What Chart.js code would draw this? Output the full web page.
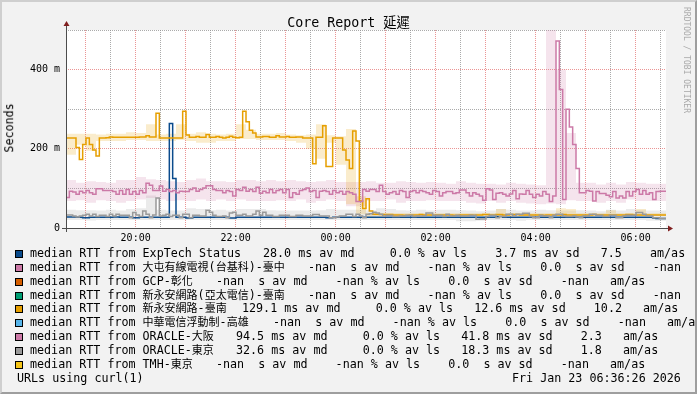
<!DOCTYPE html>
<html>
<head>
<meta charset="utf-8">
<script src="https://cdn.jsdelivr.net/npm/chart.js@4.4.1/dist/chart.umd.min.js"></script>
<style>
  body { margin: 0; background: #f2f2f2; }
  #graph {
    position: relative; width: 697px; height: 394px; overflow: hidden; background: #f2f2f2;
    font-family: "DejaVu Sans Mono", "Noto Sans CJK TC", monospace; color: #000;
  }
  #graph canvas { position: absolute; left: 0; top: 0; }
  #frame {
    position: absolute; left: 0; top: 0; right: 0; bottom: 0; pointer-events: none;
    border-style: solid; border-width: 2px; border-color: #cfcfcf #9e9e9e #9e9e9e #cfcfcf;
  }
  .txt { position: absolute; white-space: pre; line-height: 1; }
  #title { left: 0; width: 697px; top: 15.7px; text-align: center; font-size: 13.3px; }
  #ylabel { left: -40px; width: 100px; top: 121.6px; text-align: center; font-size: 11.7px; transform: rotate(-90deg); }
  #credit { left: 621px; width: 130px; top: 56px; text-align: center; font-size: 8px; color: #aaa; transform: rotate(90deg); }
  .row { position: absolute; left: 0; width: 697px; height: 12px; font-size: 11.7px; line-height: 1; white-space: pre; }
  .row span { position: absolute; top: 0; }
  .row .box { top: 2px; width: 6px; height: 6px; border: 1px solid #000; }
  .cjk { position: static !important; font-size: 11px; }
</style>
</head>
<body>
<div id="graph">
  <canvas id="chart" width="697" height="394"></canvas>
  <div class="txt" id="title">Core Report 延遲</div>
  <div class="txt" id="ylabel">Seconds</div>
  <div class="txt" id="credit">RRDTOOL / TOBI OETIKER</div>
  <div id="legend"></div>
  <div id="frame"></div>
</div>
<script>
// time axis: 12 hours ending 06:36:26, one value every 4 minutes
const timeStart = 18 + 36 / 60 + 26 / 3600;
const timeEnd = timeStart + 12;
const stepHours = 4 / 60;
const smokeEvery = 3; // smoke arrays hold one value per 3 steps

const hourTicks = [19, 19.5, 20, 20.5, 21, 21.5, 22, 22.5, 23, 23.5, 24, 24.5,
  25, 25.5, 26, 26.5, 27, 27.5, 28, 28.5, 29, 29.5, 30, 30.5];
const hourLabels = { 20: "20:00", 22: "22:00", 24: "00:00", 26: "02:00", 28: "04:00", 30: "06:00" };
const yTicks = [0, 100, 200, 300, 400, 500];
const yLabels = { 0: "0", 200: "200 m", 400: "400 m" };

// median RTT in ms
const expTech = [
  28,28,28,28,27,27,26,26,27,27, 27,27,27,27,27,28,28,27,27,27,
  27,26,26,27,27,27,27,27,27,27, 27,27,264,125,27,27,27,25,25,27,
  27,27,27,27,27,27,27,27,27,27, 25,25,27,27,27,27,27,27,27,27,
  27,27,27,27,27,27,27,27,27,27, 27,27,27,27,27,27,27,27,27,26,
  26,27,27,27,27,27,27,27,27,27, 27,27,27,27,27,27,27,27,27,27,
  27,27,27,27,27,27,27,27,27,27, 27,27,27,27,27,27,27,27,27,27,
  27,27,27,27,27,27,27,27,27,27, 29,29,27,27,27,27,27,27,27,27,
  27,27,27,27,27,27,27,27,27,27, 27,27,27,27,27,27,27,27,27,27,
  27,27,27,27,27,27,27,27,27,27, 27,27,27,27,27,27,27,25,24,24
];
const tainan = [
  234,227,227,227,203,173,211,227,211,197, 182,227,227,228,230,229,229,229,229,229,
  229,229,229,230,230,233,230,230,290,227, 227,227,227,227,227,227,295,235,229,229,
  231,229,229,236,229,229,231,229,227,229, 232,229,228,229,295,268,247,240,230,230,
  231,231,229,229,233,230,230,231,229,229, 230,230,227,227,227,162,229,229,258,155,
  155,227,227,227,197,172,150,245,220,68, 49,74,43,35,35,34,34,34,34,33,
  33,33,32,32,33,33,33,34,33,33, 33,32,33,33,33,33,33,32,32,33,
  33,33,33,32,33,33,34,34,33,33, 34,34,33,33,34,34,34,33,33,33,
  33,33,33,33,32,33,33,33,33,33, 34,33,33,33,33,33,33,33,33,34,
  33,33,33,33,33,33,33,33,33,34, 34,33,33,33,33,33,33,33,33,33
];
const osaka = [
  85,77,93,91,85,93,89,95,89,85, 99,99,95,95,95,92,85,95,85,97,
  85,92,85,95,89,113,108,95,95,106, 93,97,92,95,89,93,92,92,97,101,
  93,97,101,107,107,97,95,95,89,95, 92,81,97,95,103,93,97,92,103,88,
  93,89,97,89,95,97,89,97,77,89, 85,95,97,101,92,95,77,93,95,92,
  85,95,89,93,85,92,89,85,67,67, 97,93,97,97,92,108,92,85,89,92,
  85,95,92,77,92,95,89,95,92,89, 85,95,92,81,89,92,92,87,89,96,
  96,89,81,89,85,81,70,99,96,72, 88,89,85,81,86,95,74,86,85,95,
  85,77,85,81,92,85,67,81,472,350, 72,300,255,211,150,89,89,95,93,68,
  92,87,87,83,79,92,76,81,76,92, 81,92,97,85,95,85,89,72,92,93
];
const tokyo = [
  45,33,33,30,28,30,32,35,30,35, 29,32,32,29,35,30,35,32,32,32,
  26,39,33,29,43,35,26,33,76,30, 32,35,29,32,32,26,35,35,26,32,
  32,30,30,45,40,32,29,29,30,26, 38,40,32,32,35,30,30,35,43,32,
  40,32,32,29,29,32,32,32,29,29, 32,32,30,30,30,34,34,30,30,30,
  26,26,28,30,30,35,35,29,35,30, 26,35,36,40,38,35,30,32,32,29,
  29,30,30,32,32,29,30,30,30,38, 38,32,32,32,29,35,30,30,32,30,
  30,30,32,32,22,23,23,29,32,32, 26,29,29,35,35,30,35,35,37,37,
  29,26,26,32,30,30,26,32,35,35, 30,29,29,30,28,26,30,30,35,35,
  32,32,29,29,32,32,26,26,30,32, 32,32,39,39,35,30,30,26,26,24
];

// smoke (spread of the pings), one value per 3 steps
const tainanLo = [
  220,185,210,195,220,220,220,222,222,220, 220,220,222,220,215,215,220,220,225,225,
  222,222,222,220,215,200,175,215,160,60, 35,29,30,30,30,30,30,30,30,30,
  30,30,30,30,30,30,30,30,30,30, 30,30,30,30,30,30,30,30,30,30
];
const tainanHi = [
  244,238,238,238,236,238,238,242,240,262, 236,238,262,238,242,238,236,238,262,248,
  238,238,240,236,234,236,262,234,232,250, 80,38,37,37,37,37,37,37,37,37,
  37,37,37,37,48,37,37,37,37,37, 50,48,37,37,37,45,37,37,48,37
];
const osakaLo = [
  68,68,70,64,70,68,64,68,72,76, 72,68,70,68,72,68,72,68,72,68,
  68,68,70,68,72,64,68,72,68,55, 55,68,68,72,64,68,68,70,68,68,
  68,64,62,68,64,68,64,62,60,62, 60,70,68,68,64,68,64,72,68,68
];
const osakaHi = [
  118,121,114,118,116,114,121,121,129,123, 121,118,116,121,125,118,118,116,121,121,
  118,121,118,121,118,116,118,121,116,116, 116,118,114,114,118,116,114,116,114,112,
  118,114,112,112,110,114,112,110,108,500, 400,240,114,114,110,114,110,116,114,112
];
const tokyoLo = [
  20,20,20,19,20,20,20,20,20,20, 20,20,20,20,20,20,20,20,20,20,
  20,20,20,20,20,20,20,20,20,20, 20,20,20,20,20,20,20,20,20,20,
  17,17,18,20,20,20,18,20,20,20, 20,20,20,20,20,20,20,20,20,18
];
const tokyoHi = [
  50,46,45,45,44,46,44,48,50,82, 46,44,44,50,48,45,46,44,48,48,
  48,45,44,44,44,44,45,48,46,46, 46,45,50,48,45,44,46,44,46,46,
  45,44,42,44,48,46,44,44,46,45, 44,44,45,44,42,46,44,48,46,44
];

// legend
const legendNames = [
  "ExpTech Status", "大屯有線電視(台基科)-臺中", "GCP-彰化", "新永安網路(亞太電信)-臺南",
  "新永安網路-臺南", "中華電信浮動制-高雄", "ORACLE-大阪", "ORACLE-東京", "TMH-東京"
];
const legendColors = ["#0a4b8c", "#cc79a7", "#d55e00", "#009e73", "#e69f00", "#56b4e9", "#cc79a7", "#999999", "#f5c518"];
const nanStats = "-nan  s av md    -nan % av ls    0.0  s av sd    -nan   am/as";
const legendStats = [
  "28.0 ms av md     0.0 % av ls    3.7 ms av sd   7.5    am/as",
  nanStats, nanStats, nanStats,
  "129.1 ms av md     0.0 % av ls   12.6 ms av sd    10.2   am/as",
  nanStats,
  "94.5 ms av md     0.0 % av ls   41.8 ms av sd    2.3   am/as",
  "32.6 ms av md     0.0 % av ls   18.3 ms av sd    1.8   am/as",
  nanStats
];
const legendStatX = [263, 308, 216, 308, 242, 273, 236, 236, 216];

const legend = document.getElementById("legend");
legendNames.forEach((name, i) => {
  const row = document.createElement("div");
  row.className = "row";
  row.style.top = (247.8 + 13.9 * i) + "px";
  const label = ("median RTT from " + name).replace(/([\u3000-\u9fff\uff00-\uffef]+)/g, '<span class="cjk">$1</span>');
  row.innerHTML = `<span class="box" style="left:15px;background:${legendColors[i]}"></span>` +
    `<span style="left:30px">${label}</span>` +
    `<span style="left:${legendStatX[i]}px">${legendStats[i]}</span>`;
  legend.appendChild(row);
});
const lastRow = document.createElement("div");
lastRow.className = "row";
lastRow.style.top = (247.8 + 13.9 * 9) + "px";
lastRow.innerHTML = '<span style="left:17px">URLs using curl(1)</span><span style="left:512px">Fri Jan 23 06:36:26 2026</span>';
legend.appendChild(lastRow);

// build stepped points, with one extra point to close the last step
function stepPoints(values, every) {
  const pts = values.map((v, i) => ({ x: timeStart + i * every * stepHours, y: v }));
  pts.push({ x: timeStart + values.length * every * stepHours, y: values[values.length - 1] });
  return pts;
}

function line(values, color, order) {
  return {
    data: stepPoints(values, 1), borderColor: color, borderWidth: 1.5, pointRadius: 0,
    stepped: "after", fill: false, order: order, borderJoinStyle: "miter", borderCapStyle: "butt"
  };
}

function smoke(lo, hi, color) {
  return [
    { data: stepPoints(lo, smokeEvery), borderWidth: 0, pointRadius: 0, stepped: "after", fill: false, order: 10 },
    { data: stepPoints(hi, smokeEvery), borderWidth: 0, pointRadius: 0, stepped: "after", fill: "-1", backgroundColor: color, order: 10 }
  ];
}

const datasets = [
  ...smoke(tainanLo, tainanHi, "rgba(230,159,0,0.2)"),
  ...smoke(osakaLo, osakaHi, "rgba(204,121,167,0.2)"),
  ...smoke(tokyoLo, tokyoHi, "rgba(153,153,153,0.2)"),
  line(expTech, legendColors[0], 4),
  line(tainan, legendColors[4], 3),
  line(osaka, legendColors[6], 2),
  line(tokyo, legendColors[7], 1)
];

const majorGrid = "rgba(222,79,79,0.6)";
const minorGrid = "rgba(143,143,143,0.75)";
const tickFont = { family: "DejaVu Sans Mono", size: 10 };

const frame = {
  id: "frame",
  beforeDraw(chart) {
    const { ctx, chartArea: a } = chart;
    ctx.save();
    ctx.fillStyle = "#ffffff";
    ctx.fillRect(a.left, a.top, a.right - a.left, a.bottom - a.top);
    ctx.restore();
  },
  afterDraw(chart) {
    const { ctx, chartArea: a } = chart;
    ctx.save();
    ctx.strokeStyle = "#4d4d4d";
    ctx.lineWidth = 1;
    ctx.beginPath();
    ctx.moveTo(a.left - 4, a.bottom + 0.5);
    ctx.lineTo(a.right + 2, a.bottom + 0.5);
    ctx.moveTo(a.left + 0.5, a.bottom + 4);
    ctx.lineTo(a.left + 0.5, a.top - 4);
    ctx.stroke();
    ctx.fillStyle = "#801f1f";
    ctx.beginPath();
    ctx.moveTo(a.right + 2, a.bottom - 2.5);
    ctx.lineTo(a.right + 7, a.bottom + 0.5);
    ctx.lineTo(a.right + 2, a.bottom + 3.5);
    ctx.fill();
    ctx.beginPath();
    ctx.moveTo(a.left - 2.5, a.top - 4);
    ctx.lineTo(a.left + 0.5, a.top - 9);
    ctx.lineTo(a.left + 3.5, a.top - 4);
    ctx.fill();
    ctx.restore();
  }
};

new Chart(document.getElementById("chart"), {
  type: "line",
  data: { datasets: datasets },
  options: {
    responsive: false,
    animation: false,
    devicePixelRatio: 1,
    events: [],
    layout: { padding: { left: 0, top: 30, right: 31, bottom: 146 } },
    plugins: { legend: { display: false }, tooltip: { enabled: false } },
    scales: {
      x: {
        type: "linear", min: timeStart, max: timeEnd,
        afterBuildTicks: (s) => { s.ticks = hourTicks.map((v) => ({ value: v })); },
        afterFit: (s) => { s.height = 20; },
        grid: { drawTicks: false, lineWidth: 1, color: (c) => (c.tick && Number.isInteger(c.tick.value) ? majorGrid : minorGrid) },
        border: { display: false, dash: [1, 1] },
        ticks: { autoSkip: false, maxRotation: 0, padding: 4, color: "#000", font: tickFont, callback: (v) => hourLabels[v] || "" }
      },
      y: {
        min: 0, max: 500,
        afterBuildTicks: (s) => { s.ticks = yTicks.map((v) => ({ value: v })); },
        afterFit: (s) => { s.width = 66; },
        grid: { drawTicks: false, lineWidth: 1, color: (c) => (c.tick && c.tick.value % 200 === 0 ? majorGrid : minorGrid) },
        border: { display: false, dash: [1, 1] },
        ticks: { padding: 6, color: "#000", font: tickFont, callback: (v) => (v in yLabels ? yLabels[v] : "") }
      }
    }
  },
  plugins: [frame]
});
</script>
</body>
</html>
